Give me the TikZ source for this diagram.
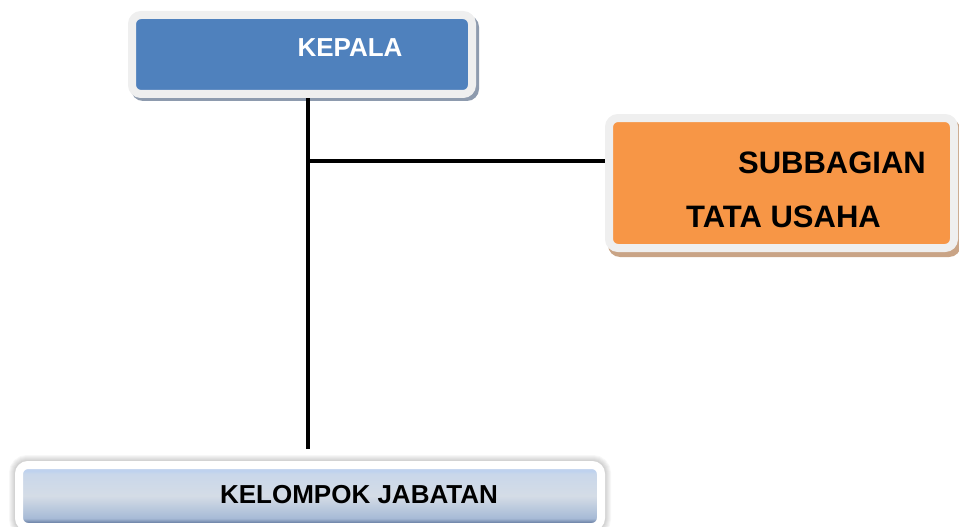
\documentclass[tikz,border=0pt]{standalone}
\usepackage{fontspec}
\setmainfont{Liberation Sans}
\usetikzlibrary{backgrounds,calc}

\definecolor{kepalablue}{HTML}{4F81BD}
\definecolor{kepalashadow}{HTML}{8E9BAE}
\definecolor{suborange}{HTML}{F79646}
\definecolor{subshadow}{HTML}{C9A486}
\definecolor{framegray}{HTML}{EFEFEF}
\definecolor{kelDark}{HTML}{7489AC}
\definecolor{kelLow}{HTML}{A6BAD6}
\definecolor{kelMid}{HTML}{D4DCE6}
\definecolor{kelHigh}{HTML}{C9D7EA}
\definecolor{kelTop}{HTML}{BFD2EE}

% bevelled blue-grey fill of the lower box (bottom to top)
\pgfdeclareverticalshading{kelbevel}{100bp}{
  color(0bp)=(kelDark);
  color(29bp)=(kelDark);
  color(32bp)=(kelLow);
  color(50bp)=(kelMid);
  color(68bp)=(kelHigh);
  color(70bp)=(kelTop);
  color(100bp)=(kelTop)}

\tikzset{
  unitbox/.style={rectangle, rounded corners=9pt, line width=8pt, inner sep=0pt},
  lbl/.style={anchor=base, inner sep=0pt, font=\bfseries},
  connector/.style={line width=3.5pt, black},
}

\begin{document}
\begin{tikzpicture}[x=1pt, y=-1pt]
  \useasboundingbox (0,0) rectangle (959,527);
  \clip (0,0) rectangle (959,527);

  % KEPALA box
  \node[unitbox, draw=framegray, fill=kepalablue,
        minimum width=340pt, minimum height=79pt] (kepala) at (302,54.5) {};
  % SUBBAGIAN TATA USAHA box
  \node[unitbox, draw=framegray, fill=suborange,
        minimum width=345pt, minimum height=130pt] (sub) at (781.5,183) {};
  % KELOMPOK JABATAN box
  \node[unitbox, draw=white, shading=kelbevel,
        minimum width=582pt, minimum height=62pt] (kel) at (310,496) {};

  \begin{scope}[on background layer]
    % offset shadows of the upper boxes
    \fill[kepalashadow, rounded corners=12pt]
      ($(kepala.north west)+(3,4)$) rectangle ($(kepala.south east)+(3,3)$);
    \fill[subshadow, rounded corners=12pt]
      ($(sub.north west)+(3,5)$) rectangle ($(sub.south east)+(3,5)$);
    % soft glow round the lower box
    \foreach \g in {1,...,6}
      \draw[black, opacity=0.03, line width=\g*2pt, rounded corners=12pt]
        (kel.north west) rectangle (kel.south east);
    % connectors
    \coordinate (j) at (kepala.south -| 308,0);
    \coordinate (junction) at (308,161);
    \coordinate (kend) at (308,449);
    \draw[connector] (j) -- (kend);
    \draw[connector] (junction) -- (junction -| sub.west);
  \end{scope}

  % labels
  \node[lbl, text=white, font=\bfseries\fontsize{26}{30}\selectfont] (tk) at (350,57) {KEPALA};
  \node[lbl, font=\bfseries\fontsize{31}{36}\selectfont] (ts1) at (832,173) {SUBBAGIAN};
  \node[lbl, font=\bfseries\fontsize{31}{36}\selectfont] (ts2) at (783.5,227) {TATA USAHA};
  \node[lbl, font=\bfseries\fontsize{26}{30}\selectfont] (tkel) at (359,503) {KELOMPOK JABATAN};
\end{tikzpicture}
\end{document}
